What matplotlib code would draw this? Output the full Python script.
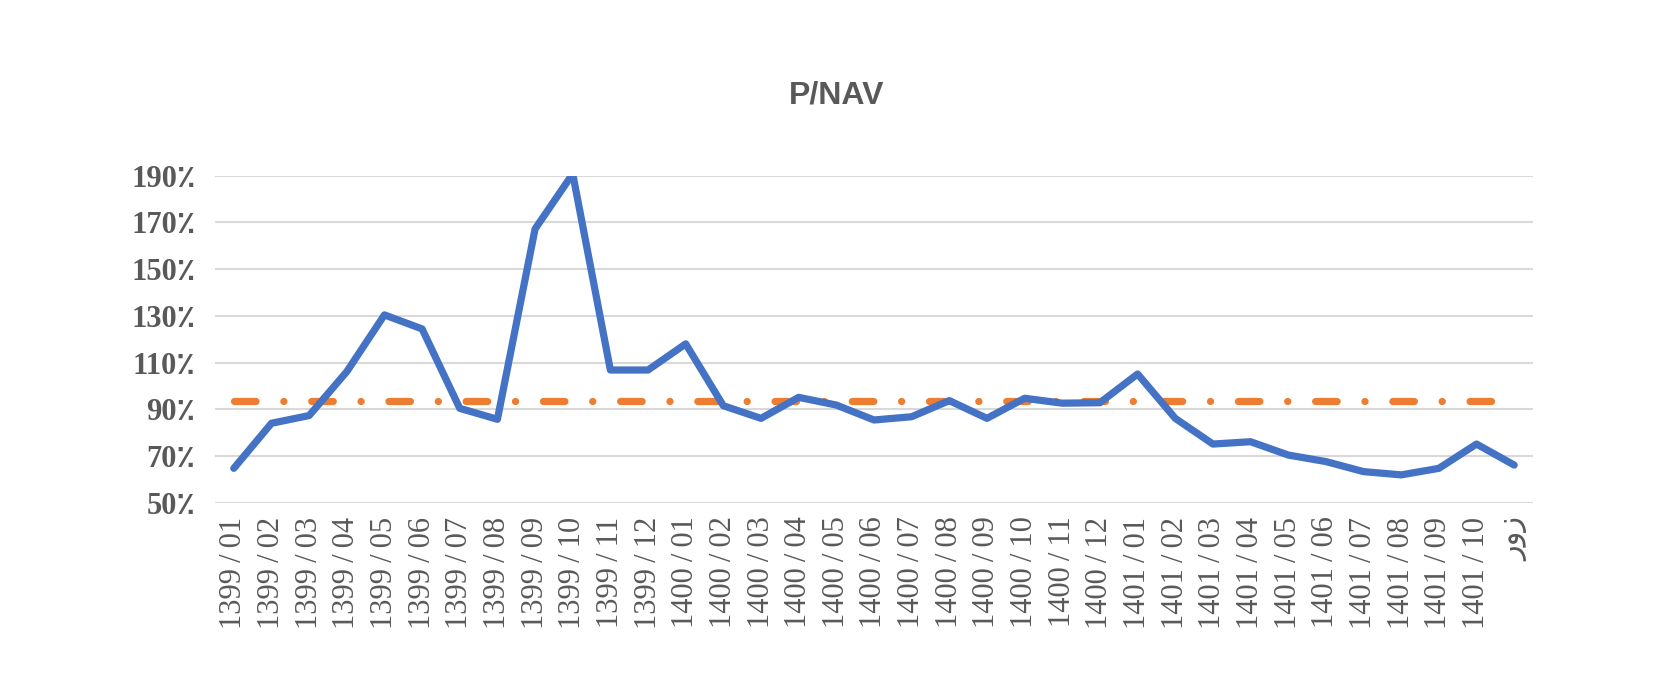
import numpy as np
import matplotlib
matplotlib.use("Agg")
import matplotlib.pyplot as plt

# P/NAV monthly values (percent)
months = ["1399/01", "1399/02", "1399/03", "1399/04", "1399/05", "1399/06",
          "1399/07", "1399/08", "1399/09", "1399/10", "1399/11", "1399/12",
          "1400/01", "1400/02", "1400/03", "1400/04", "1400/05", "1400/06",
          "1400/07", "1400/08", "1400/09", "1400/10", "1400/11", "1400/12",
          "1401/01", "1401/02", "1401/03", "1401/04", "1401/05", "1401/06",
          "1401/07", "1401/08", "1401/09", "1401/10", "روز"]
pnav = [64.7, 84.0, 87.3, 106.1, 130.4, 124.4, 90.4, 85.7, 167.2, 190.8,
        106.8, 106.8, 118.0, 91.5, 86.1, 95.1, 91.8, 85.4, 86.8, 93.7,
        86.1, 94.7, 92.6, 92.8, 105.1, 86.1, 75.1, 76.1, 70.4, 67.6,
        63.3, 61.9, 64.7, 75.1, 66.1]
avg_level = 93.6
yticks = [50, 70, 90, 110, 130, 150, 170, 190]

gray = "#595959"
fam = ["Liberation Serif", "DejaVu Sans"]

fig = plt.figure(figsize=(16.6, 6.75), dpi=100)
ax = fig.add_axes([0.1295, 0.2553, 0.794, 0.4844])

x = np.arange(len(months))
ax.plot(x, pnav, color="#4472C4", lw=5.2, solid_joinstyle="round",
        solid_capstyle="round", zorder=3)
avg_line, = ax.plot(x, [avg_level] * len(x), color="#ED7D31", lw=5.2,
                    dash_capstyle="round", zorder=2)
# dash - dot pattern (given in linewidth units since dashes scale with lw)
avg_line.set_dashes([15.5 / 5.2, 20.0 / 5.2, 0.1 / 5.2, 20.0 / 5.2])

# spread the slash a little, like the original labels
xlabels = [m.replace("/", "\u2009/\u2009") for m in months]

ax.set_xlim(-0.5, len(months) - 0.5)
ax.set_ylim(50, 190)
ax.set_yticks(yticks)
ax.set_yticklabels([f"{v}٪" for v in yticks], family=fam, fontsize=22,
                   fontweight="bold", color=gray)
ax.set_xticks(x)
ax.set_xticklabels(xlabels, rotation=90, family=fam, fontsize=22, color=gray)
ax.tick_params(axis="both", length=0)
ax.tick_params(axis="y", pad=14)
ax.tick_params(axis="x", pad=10)

ax.grid(axis="y", color="#D9D9D9", lw=1.5)
ax.set_axisbelow(True)
for s in ax.spines.values():
    s.set_visible(False)

fig.text(0.504, 1 - 96 / 675, "P/NAV", ha="center", va="center",
         fontsize=23, fontweight="bold", color=gray, family="Liberation Sans")

fig.savefig("out.png", dpi=100)
